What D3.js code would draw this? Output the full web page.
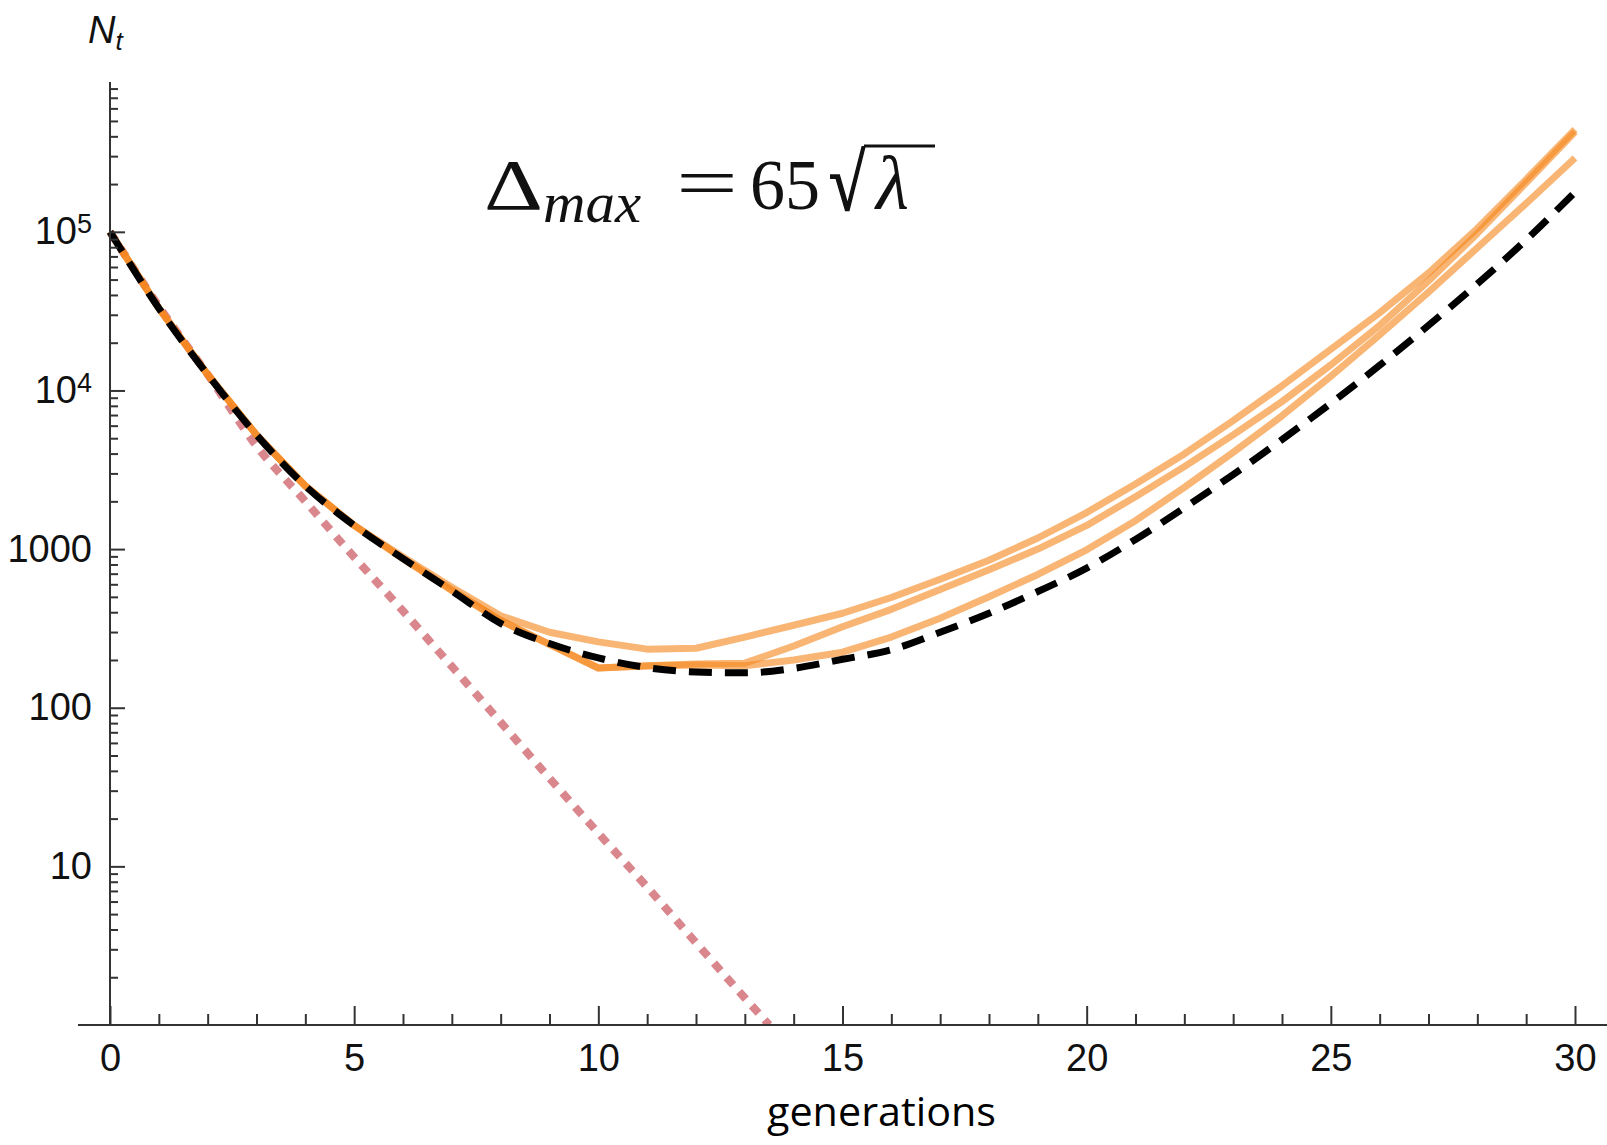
<!DOCTYPE html>
<html>
<head>
<meta charset="utf-8">
<script src="https://cdn.jsdelivr.net/npm/d3@7"></script>
<style>
    html, body { margin: 0; padding: 0; background: #fff; overflow: hidden; }
    svg { display: block; }
</style>
</head>
<body>
<svg id="chart" width="1607" height="1145"></svg>
<script>
// Data
const generations = [0, 1, 2, 3, 4, 5, 6, 7, 8, 9, 10, 11, 12, 13, 14, 15,
    16, 17, 18, 19, 20, 21, 22, 23, 24, 25, 26, 27, 28, 29, 30];

// black dashed: expected population
const expectedN = [100000, 33000, 12600, 5250, 2500, 1410, 870, 546, 340, 254, 206,
    179, 168, 166, 177, 202, 232, 299, 394, 540, 759, 1150, 1820, 2950, 4900,
    8300, 14400, 25700, 47000, 89000, 178000];

// orange: three simulated runs
const runA = [100000, 33000, 12600, 5250, 2500, 1410, 891, 575, 380, 299, 260,
    234, 237, 279, 331, 394, 495, 646, 851, 1175, 1700, 2570, 3980, 6460, 10700,
    18200, 30900, 55000, 105000, 214000, 442000];
const runB = [100000, 33000, 12600, 5250, 2500, 1410, 871, 550, 355, 251, 178,
    184, 189, 191, 245, 324, 417, 556, 741, 1000, 1410, 2140, 3310, 5250, 8510,
    14500, 25700, 49000, 97700, 204000, 427000];
const runC = [100000, 33000, 12600, 5250, 2500, 1410, 871, 550, 355, 251, 178,
    183, 186, 184, 200, 224, 279, 367, 501, 692, 989, 1510, 2450, 4070, 6920,
    12300, 22400, 41700, 79400, 151000, 292000];

// red dotted: decline without rescue
const decayGenerations = [0, 1, 2, 3, 4, 5, 6, 7, 8, 9, 10, 11, 12, 13, 13.5];
const decayN = [100000, 33900, 12600, 4470, 2000, 891, 407, 182, 81, 36, 16.2,
    7.4, 3.3, 1.48, 1];

const xMajorTicks = [0, 5, 10, 15, 20, 25, 30];
const yMajorTicks = [10, 100, 1000, 10000, 100000];

const svg = d3.select("#chart");
const x = d3.scaleLinear().domain([0, 30]).range([110, 1575]);
const y = d3.scaleLog().domain([1, 8.8e5]).range([1025, 82]);

const axisColor = "#333";
const labelFont = "38px 'Liberation Sans', Arial, sans-serif";

// Minor tick positions
const xMinor = d3.range(1, 30).filter(v => v % 5 !== 0);
const yMinor = [];
for (let k = 0; k <= 5; k++) {
    for (let m = 2; m <= 9; m++) {
        const v = m * Math.pow(10, k);
        if (v <= y.domain()[1]) yMinor.push(v);
    }
}

// Curves
svg.append("clipPath").attr("id", "plot-clip")
    .append("rect")
    .attr("x", x(0) - 10).attr("y", y.range()[1] - 30)
    .attr("width", x(30) - x(0) + 20).attr("height", y(1) - y.range()[1] + 30);

const plot = svg.append("g").attr("clip-path", "url(#plot-clip)");

const line = d3.line()
    .x(d => x(d[0]))
    .y(d => y(d[1]));

plot.append("path")
    .datum(decayGenerations.map((t, i) => [t, decayN[i]]))
    .attr("d", line.curve(d3.curveMonotoneX))
    .attr("fill", "none")
    .attr("stroke", "#d9878d")
    .attr("stroke-width", 8)
    .attr("stroke-dasharray", "10,9");

[runA, runB, runC].forEach(run => {
    plot.append("path")
        .datum(generations.map((t, i) => [t, run[i]]))
        .attr("d", line.curve(d3.curveLinear))
        .attr("fill", "none")
        .attr("stroke", "rgb(245,135,30)")
        .attr("stroke-opacity", 0.62)
        .attr("stroke-width", 7)
        .attr("stroke-linejoin", "round");
});

plot.append("path")
    .datum(generations.map((t, i) => [t, expectedN[i]]))
    .attr("d", line.curve(d3.curveMonotoneX))
    .attr("fill", "none")
    .attr("stroke", "#000")
    .attr("stroke-width", 7)
    .attr("stroke-dasharray", "23,13");

// Axes
function styleAxis(g) {
    g.select(".domain").remove();
    g.selectAll(".tick line").attr("stroke", axisColor).attr("stroke-width", 2);
    g.selectAll(".tick text").attr("fill", "#111").style("font", labelFont);
}

svg.append("g")
    .attr("transform", `translate(0,${y(1)})`)
    .call(d3.axisBottom(x).tickValues(xMinor).tickSize(-11).tickFormat(""))
    .call(styleAxis);

svg.append("g")
    .attr("transform", `translate(0,${y(1)})`)
    .call(d3.axisBottom(x).tickValues(xMajorTicks).tickSize(-19).tickPadding(19)
        .tickFormat(d3.format("d")))
    .call(styleAxis);

svg.append("g")
    .attr("transform", `translate(${x(0)},0)`)
    .call(d3.axisLeft(y).tickValues(yMinor).tickSize(-8).tickFormat(""))
    .call(styleAxis);

const yAxisG = svg.append("g")
    .attr("transform", `translate(${x(0)},0)`)
    .call(d3.axisLeft(y).tickValues(yMajorTicks).tickSize(-15).tickPadding(18)
        .tickFormat(d => d >= 1e4 ? "" : d3.format("d")(d)))
    .call(styleAxis);

// powers of ten with superscripts
yAxisG.selectAll(".tick text").each(function(d) {
    if (d < 1e4) return;
    const t = d3.select(this);
    t.append("tspan").text("10");
    t.append("tspan")
        .attr("dy", "-0.42em")
        .style("font-size", "27px")
        .text(Math.round(Math.log10(d)));
});

// axis lines
svg.append("line")
    .attr("x1", 78).attr("x2", 1607)
    .attr("y1", y(1)).attr("y2", y(1))
    .attr("stroke", axisColor).attr("stroke-width", 2);

svg.append("line")
    .attr("x1", x(0)).attr("x2", x(0))
    .attr("y1", y.range()[1]).attr("y2", y(1))
    .attr("stroke", axisColor).attr("stroke-width", 2);

// Axis titles
const nLabel = svg.append("text")
    .attr("x", 88).attr("y", 43)
    .attr("fill", "#111")
    .style("font", "italic 38px 'Liberation Sans', Arial, sans-serif");
nLabel.append("tspan").text("N");
nLabel.append("tspan").attr("dy", 7).style("font-size", "26px").text("t");

svg.append("text")
    .attr("x", 767).attr("y", 1126)
    .attr("textLength", 229)
    .attr("lengthAdjust", "spacingAndGlyphs")
    .attr("fill", "#000")
    .style("font-family", "'Open Sans', sans-serif")
    .style("font-size", "40px")
    .text("generations");

// Formula annotation
const serif = "'Liberation Serif', 'DejaVu Serif', serif";
const formula = svg.append("g").attr("fill", "#111");
function piece(txt, px, py, size, w, italic) {
    const t = formula.append("text")
        .attr("x", px).attr("y", py)
        .style("font-family", serif)
        .style("font-size", size + "px")
        .style("font-style", italic ? "italic" : "normal")
        .text(txt);
    if (w) t.attr("textLength", w).attr("lengthAdjust", "spacingAndGlyphs");
    return t;
}
piece("Δ", 484, 209, 72, 59, false);
piece("max", 543, 222, 56, 98, true);
piece("=", 676, 207, 72, 62, false);
piece("65", 750, 209, 72, 70, false);
piece("√", 829, 210, 80, 36, false)
    .attr("stroke", "#111").attr("stroke-width", 1.6);
piece("λ", 876, 209, 76, null, true);
formula.append("line")
    .attr("x1", 864).attr("x2", 935)
    .attr("y1", 146).attr("y2", 146)
    .attr("stroke", "#111").attr("stroke-width", 3);
</script>
</body>
</html>
